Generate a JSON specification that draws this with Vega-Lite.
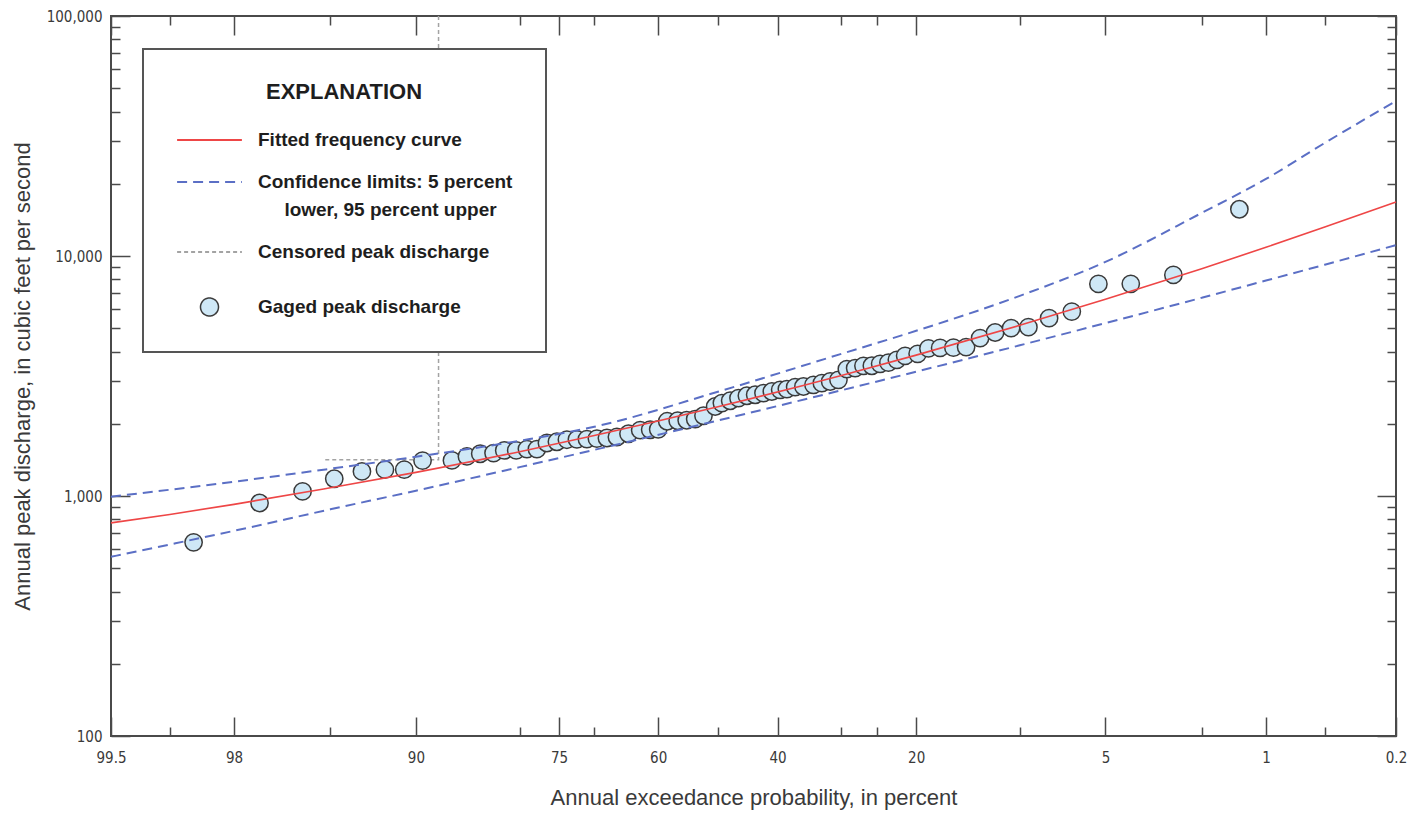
{
  "$schema": "https://vega.github.io/schema/vega-lite/v6.json",
  "width": 1285,
  "height": 720,
  "autosize": {"type": "none"},
  "padding": {"left": 111, "top": 16, "right": 28, "bottom": 79},
  "background": "white",
  "config": {
    "view": {"stroke": "#4a4a4a", "strokeWidth": 2},
    "axis": {
      "domain": false,
      "grid": false,
      "labelFont": "DejaVu Sans Condensed, Liberation Sans, sans-serif",
      "labelFontSize": 15,
      "labelColor": "#3a3a3a",
      "titleFont": "Liberation Sans",
      "titleFontSize": 22,
      "titleFontWeight": "normal",
      "titleColor": "#3a3a3a",
      "tickColor": "#4a4a4a",
      "tickWidth": 1.5
    }
  },
  "datasets": {
    "peaks": [
      {"z": -2.2252, "q": 641, "series": "Gaged peak discharge"},
      {"z": -1.9452, "q": 935, "series": "Gaged peak discharge"},
      {"z": -1.7627, "q": 1045, "series": "Gaged peak discharge"},
      {"z": -1.6282, "q": 1180, "series": "Gaged peak discharge"},
      {"z": -1.5107, "q": 1266, "series": "Gaged peak discharge"},
      {"z": -1.4131, "q": 1287, "series": "Gaged peak discharge"},
      {"z": -1.3312, "q": 1287, "series": "Gaged peak discharge"},
      {"z": -1.2535, "q": 1403, "series": "Gaged peak discharge"},
      {"z": -1.1287, "q": 1407, "series": "Gaged peak discharge"},
      {"z": -1.0651, "q": 1462, "series": "Gaged peak discharge"},
      {"z": -1.0087, "q": 1500, "series": "Gaged peak discharge"},
      {"z": -0.9522, "q": 1510, "series": "Gaged peak discharge"},
      {"z": -0.9068, "q": 1548, "series": "Gaged peak discharge"},
      {"z": -0.8559, "q": 1548, "series": "Gaged peak discharge"},
      {"z": -0.8105, "q": 1569, "series": "Gaged peak discharge"},
      {"z": -0.7681, "q": 1569, "series": "Gaged peak discharge"},
      {"z": -0.7256, "q": 1663, "series": "Gaged peak discharge"},
      {"z": -0.6832, "q": 1683, "series": "Gaged peak discharge"},
      {"z": -0.6408, "q": 1716, "series": "Gaged peak discharge"},
      {"z": -0.5983, "q": 1722, "series": "Gaged peak discharge"},
      {"z": -0.5559, "q": 1727, "series": "Gaged peak discharge"},
      {"z": -0.5135, "q": 1735, "series": "Gaged peak discharge"},
      {"z": -0.4710, "q": 1744, "series": "Gaged peak discharge"},
      {"z": -0.4286, "q": 1761, "series": "Gaged peak discharge"},
      {"z": -0.3794, "q": 1817, "series": "Gaged peak discharge"},
      {"z": -0.3297, "q": 1880, "series": "Gaged peak discharge"},
      {"z": -0.2873, "q": 1888, "series": "Gaged peak discharge"},
      {"z": -0.2533, "q": 1895, "series": "Gaged peak discharge"},
      {"z": -0.2151, "q": 2048, "series": "Gaged peak discharge"},
      {"z": -0.1706, "q": 2058, "series": "Gaged peak discharge"},
      {"z": -0.1324, "q": 2068, "series": "Gaged peak discharge"},
      {"z": -0.0963, "q": 2092, "series": "Gaged peak discharge"},
      {"z": -0.0611, "q": 2160, "series": "Gaged peak discharge"},
      {"z": -0.0115, "q": 2360, "series": "Gaged peak discharge"},
      {"z": 0.0170, "q": 2439, "series": "Gaged peak discharge"},
      {"z": 0.0522, "q": 2494, "series": "Gaged peak discharge"},
      {"z": 0.0874, "q": 2559, "series": "Gaged peak discharge"},
      {"z": 0.1231, "q": 2616, "series": "Gaged peak discharge"},
      {"z": 0.1583, "q": 2641, "series": "Gaged peak discharge"},
      {"z": 0.1935, "q": 2684, "series": "Gaged peak discharge"},
      {"z": 0.2291, "q": 2726, "series": "Gaged peak discharge"},
      {"z": 0.2644, "q": 2770, "series": "Gaged peak discharge"},
      {"z": 0.2928, "q": 2789, "series": "Gaged peak discharge"},
      {"z": 0.3280, "q": 2843, "series": "Gaged peak discharge"},
      {"z": 0.3632, "q": 2859, "series": "Gaged peak discharge"},
      {"z": 0.4057, "q": 2906, "series": "Gaged peak discharge"},
      {"z": 0.4413, "q": 2953, "series": "Gaged peak discharge"},
      {"z": 0.4765, "q": 3000, "series": "Gaged peak discharge"},
      {"z": 0.5118, "q": 3049, "series": "Gaged peak discharge"},
      {"z": 0.5474, "q": 3379, "series": "Gaged peak discharge"},
      {"z": 0.5826, "q": 3412, "series": "Gaged peak discharge"},
      {"z": 0.6178, "q": 3486, "series": "Gaged peak discharge"},
      {"z": 0.6535, "q": 3490, "series": "Gaged peak discharge"},
      {"z": 0.6887, "q": 3554, "series": "Gaged peak discharge"},
      {"z": 0.7239, "q": 3598, "series": "Gaged peak discharge"},
      {"z": 0.7596, "q": 3693, "series": "Gaged peak discharge"},
      {"z": 0.7948, "q": 3837, "series": "Gaged peak discharge"},
      {"z": 0.8478, "q": 3911, "series": "Gaged peak discharge"},
      {"z": 0.8937, "q": 4120, "series": "Gaged peak discharge"},
      {"z": 0.9433, "q": 4140, "series": "Gaged peak discharge"},
      {"z": 0.9997, "q": 4150, "series": "Gaged peak discharge"},
      {"z": 1.0536, "q": 4175, "series": "Gaged peak discharge"},
      {"z": 1.1130, "q": 4549, "series": "Gaged peak discharge"},
      {"z": 1.1767, "q": 4799, "series": "Gaged peak discharge"},
      {"z": 1.2446, "q": 5006, "series": "Gaged peak discharge"},
      {"z": 1.3180, "q": 5054, "series": "Gaged peak discharge"},
      {"z": 1.4058, "q": 5509, "series": "Gaged peak discharge"},
      {"z": 1.5022, "q": 5868, "series": "Gaged peak discharge"},
      {"z": 1.6151, "q": 7652, "series": "Gaged peak discharge"},
      {"z": 1.7525, "q": 7660, "series": "Gaged peak discharge"},
      {"z": 1.9333, "q": 8342, "series": "Gaged peak discharge"},
      {"z": 2.2134, "q": 15660, "series": "Gaged peak discharge"}
    ],
    "fitted": [
      {"z": -2.5758, "q": 773, "series": "Fitted frequency curve"},
      {"z": -2.3263, "q": 838, "series": "Fitted frequency curve"},
      {"z": -2.0537, "q": 923, "series": "Fitted frequency curve"},
      {"z": -1.6449, "q": 1082, "series": "Fitted frequency curve"},
      {"z": -1.2816, "q": 1254, "series": "Fitted frequency curve"},
      {"z": -0.8416, "q": 1530, "series": "Fitted frequency curve"},
      {"z": -0.5244, "q": 1786, "series": "Fitted frequency curve"},
      {"z": 0, "q": 2353, "series": "Fitted frequency curve"},
      {"z": 0.5244, "q": 3180, "series": "Fitted frequency curve"},
      {"z": 0.8416, "q": 3864, "series": "Fitted frequency curve"},
      {"z": 1.2816, "q": 5141, "series": "Fitted frequency curve"},
      {"z": 1.6449, "q": 6597, "series": "Fitted frequency curve"},
      {"z": 2.0537, "q": 8853, "series": "Fitted frequency curve"},
      {"z": 2.3263, "q": 10870, "series": "Fitted frequency curve"},
      {"z": 2.5758, "q": 13195, "series": "Fitted frequency curve"},
      {"z": 2.8782, "q": 16800, "series": "Fitted frequency curve"}
    ],
    "bounds": [
      {"z": -2.5758, "q": 993, "part": "upper", "series": "Confidence limits"},
      {"z": -2.3263, "q": 1062, "part": "upper", "series": "Confidence limits"},
      {"z": -2.0537, "q": 1147, "part": "upper", "series": "Confidence limits"},
      {"z": -1.6449, "q": 1299, "part": "upper", "series": "Confidence limits"},
      {"z": -1.2816, "q": 1457, "part": "upper", "series": "Confidence limits"},
      {"z": -0.8416, "q": 1699, "part": "upper", "series": "Confidence limits"},
      {"z": -0.5244, "q": 1943, "part": "upper", "series": "Confidence limits"},
      {"z": 0, "q": 2718, "part": "upper", "series": "Confidence limits"},
      {"z": 0.5244, "q": 3912, "part": "upper", "series": "Confidence limits"},
      {"z": 0.8416, "q": 4878, "part": "upper", "series": "Confidence limits"},
      {"z": 1.2816, "q": 6823, "part": "upper", "series": "Confidence limits"},
      {"z": 1.6449, "q": 9450, "part": "upper", "series": "Confidence limits"},
      {"z": 2.0537, "q": 15115, "part": "upper", "series": "Confidence limits"},
      {"z": 2.3263, "q": 20940, "part": "upper", "series": "Confidence limits"},
      {"z": 2.5758, "q": 29580, "part": "upper", "series": "Confidence limits"},
      {"z": 2.8782, "q": 44230, "part": "upper", "series": "Confidence limits"},
      {"z": -2.5758, "q": 558, "part": "lower", "series": "Confidence limits"},
      {"z": -2.3263, "q": 628, "part": "lower", "series": "Confidence limits"},
      {"z": -2.0537, "q": 716, "part": "lower", "series": "Confidence limits"},
      {"z": -1.6449, "q": 880, "part": "lower", "series": "Confidence limits"},
      {"z": -1.2816, "q": 1052, "part": "lower", "series": "Confidence limits"},
      {"z": -0.8416, "q": 1319, "part": "lower", "series": "Confidence limits"},
      {"z": -0.5244, "q": 1557, "part": "lower", "series": "Confidence limits"},
      {"z": 0, "q": 2063, "part": "lower", "series": "Confidence limits"},
      {"z": 0.5244, "q": 2757, "part": "lower", "series": "Confidence limits"},
      {"z": 0.8416, "q": 3296, "part": "lower", "series": "Confidence limits"},
      {"z": 1.2816, "q": 4245, "part": "lower", "series": "Confidence limits"},
      {"z": 1.6449, "q": 5251, "part": "lower", "series": "Confidence limits"},
      {"z": 2.0537, "q": 6699, "part": "lower", "series": "Confidence limits"},
      {"z": 2.3263, "q": 7900, "part": "lower", "series": "Confidence limits"},
      {"z": 2.5758, "q": 9201, "part": "lower", "series": "Confidence limits"},
      {"z": 2.8782, "q": 11100, "part": "lower", "series": "Confidence limits"}
    ],
    "censored": [
      {"z": -1.6664, "q": 1416, "k": 0, "series": "Censored peak discharge"},
      {"z": -1.1856, "q": 1416, "k": 1, "series": "Censored peak discharge"},
      {"z": -1.1856, "q": 100000, "k": 2, "series": "Censored peak discharge"}
    ]
  },
  "layer": [
    {
      "data": {"name": "censored"},
      "mark": {"type": "line", "strokeDash": [4, 3], "strokeWidth": 1.5},
      "encoding": {
        "x": {"field": "z", "type": "quantitative", "axis": null,
              "scale": {"domain": [-2.5758, 2.8782], "nice": false, "zero": false}},
        "y": {"field": "q", "type": "quantitative", "axis": null,
              "scale": {"type": "log", "domain": [100, 100000], "nice": false}},
        "order": {"field": "k"},
        "color": {
          "field": "series", "type": "nominal",
          "scale": {
            "domain": ["Fitted frequency curve", "Confidence limits", "Censored peak discharge", "Gaged peak discharge"],
            "range": ["#ee4646", "#5b6fc5", "#a3a3a3", "#3a3a3a"]
          },
          "legend": {
            "title": "EXPLANATION",
            "orient": "none",
            "legendX": 32,
            "legendY": 33,
            "direction": "vertical",
            "padding": 33,
            "strokeColor": "#555555",
            "fillColor": "white",
            "titleFont": "Liberation Sans",
            "titleFontWeight": "bold",
            "titleFontSize": 22,
            "titleColor": "#1e1e1e",
            "titleAnchor": "middle",
            "titleAlign": "center",
            "titlePadding": 26,
            "labelFont": "Liberation Sans",
            "labelFontWeight": "bold",
            "labelFontSize": 19,
            "labelColor": "#1e1e1e",
            "labelLimit": 600,
            "symbolSize": 324,
            "symbolStrokeWidth": 2,
            "symbolOffset": 24,
            "labelOffset": 39,
            "rowPadding": 22,
            "labelExpr": "datum.label === 'Confidence limits' ? ['Confidence limits: 5 percent', '\u200b\u00a0\u00a0\u00a0\u00a0\u00a0lower, 95 percent upper'] : datum.label",
            "encode": {
              "legend": {"update": {"strokeWidth": {"value": 2}}},
              "labels": {"update": {
                "lineHeight": {"signal": "datum.value === 'Confidence limits' ? 28 : 20"},
                "dy": {"signal": "datum.value === 'Gaged peak discharge' ? 13 : 0"}
              }},
              "symbols": {"update": {
                "y": {"signal": "datum.value === 'Gaged peak discharge' ? 23 : 10"},
                "shape": {"signal": "datum.value === 'Gaged peak discharge' ? 'circle' : 'M-3.6,0H3.6'"},
                "fill": {"signal": "datum.value === 'Gaged peak discharge' ? '#cfe8f6' : 'transparent'"},
                "stroke": {"signal": "datum.value === 'Fitted frequency curve' ? '#ee4646' : datum.value === 'Confidence limits' ? '#5b6fc5' : datum.value === 'Censored peak discharge' ? '#a3a3a3' : '#3a3a3a'"},
                "strokeDash": {"signal": "datum.value === 'Confidence limits' ? [10, 6] : datum.value === 'Censored peak discharge' ? [4, 3] : [1, 0]"},
                "strokeWidth": {"signal": "datum.value === 'Gaged peak discharge' ? 1.5 : 2"},
                "opacity": {"value": 1}
              }}
            }
          }
        }
      }
    },
    {
      "data": {"name": "peaks"},
      "mark": {"type": "point", "filled": false, "fill": "#cfe8f6", "fillOpacity": 1, "strokeWidth": 1.5, "size": 300, "opacity": 1},
      "encoding": {
        "x": {"field": "z", "type": "quantitative",
              "axis": {
                "orient": "bottom",
                "values": [-2.5758, -2.3263, -2.0537, -1.6449, -1.2816, -0.8416, -0.6745, -0.5244, -0.2533, 0, 0.2533, 0.5244, 0.6745, 0.8416, 1.2816, 1.6449, 2.0537, 2.3263, 2.5758, 2.8782],
                "labelExpr": "indexof([-2.5758,-2.0537,-1.2816,-0.6745,-0.2533,0.2533,0.8416,1.6449,2.3263,2.8782], datum.value) >= 0 ? format(100 * (1 - cumulativeNormal(datum.value)), '.1~f') : ''",
                "tickSize": {"condition": {"test": "indexof([-2.5758,-2.0537,-1.2816,-0.6745,-0.2533,0.2533,0.8416,1.6449,2.3263,2.8782], datum.value) >= 0", "value": -19}, "value": -9},
                "labelPadding": 33,
                "labelFlush": false,
                "labelOverlap": false,
                "labelBound": false,
                "title": "Annual exceedance probability, in percent",
                "titlePadding": 12
              }},
        "y": {"field": "q", "type": "quantitative",
              "axis": {
                "orient": "left",
                "values": [100, 200, 300, 400, 500, 600, 700, 800, 900, 1000, 2000, 3000, 4000, 5000, 6000, 7000, 8000, 9000, 10000, 20000, 30000, 40000, 50000, 60000, 70000, 80000, 90000, 100000],
                "labelExpr": "indexof([100, 1000, 10000, 100000], datum.value) >= 0 ? format(datum.value, ',') : ''",
                "tickSize": {"condition": {"test": "indexof([100, 1000, 10000, 100000], datum.value) >= 0", "value": -19}, "value": -9},
                "labelPadding": 28,
                "labelFlush": false,
                "labelOverlap": false,
                "labelBound": false,
                "title": "Annual peak discharge, in cubic feet per second",
                "titlePadding": 12
              }},
        "color": {"field": "series", "type": "nominal"}
      }
    },
    {
      "data": {"name": "bounds"},
      "mark": {"type": "line", "strokeDash": [10, 6], "strokeWidth": 2, "interpolate": "monotone"},
      "encoding": {
        "x": {"field": "z", "type": "quantitative",
              "axis": {
                "orient": "top",
                "values": [-2.5758, -2.3263, -2.0537, -1.6449, -1.2816, -0.8416, -0.6745, -0.5244, -0.2533, 0, 0.2533, 0.5244, 0.6745, 0.8416, 1.2816, 1.6449, 2.0537, 2.3263, 2.5758, 2.8782],
                "labels": false,
                "title": null,
                "tickSize": {"condition": {"test": "indexof([-2.5758,-2.0537,-1.2816,-0.6745,-0.2533,0.2533,0.8416,1.6449,2.3263,2.8782], datum.value) >= 0", "value": -19}, "value": -9}
              }},
        "y": {"field": "q", "type": "quantitative",
              "axis": {
                "orient": "right",
                "values": [100, 200, 300, 400, 500, 600, 700, 800, 900, 1000, 2000, 3000, 4000, 5000, 6000, 7000, 8000, 9000, 10000, 20000, 30000, 40000, 50000, 60000, 70000, 80000, 90000, 100000],
                "labels": false,
                "title": null,
                "tickSize": {"condition": {"test": "indexof([100, 1000, 10000, 100000], datum.value) >= 0", "value": -19}, "value": -9}
              }},
        "detail": {"field": "part"},
        "color": {"field": "series", "type": "nominal"}
      }
    },
    {
      "data": {"name": "fitted"},
      "mark": {"type": "line", "strokeWidth": 1.6, "interpolate": "monotone"},
      "encoding": {
        "x": {"field": "z", "type": "quantitative", "axis": null},
        "y": {"field": "q", "type": "quantitative", "axis": null},
        "color": {"field": "series", "type": "nominal"}
      }
    }
  ],
  "resolve": {"axis": {"x": "independent", "y": "independent"}}
}
